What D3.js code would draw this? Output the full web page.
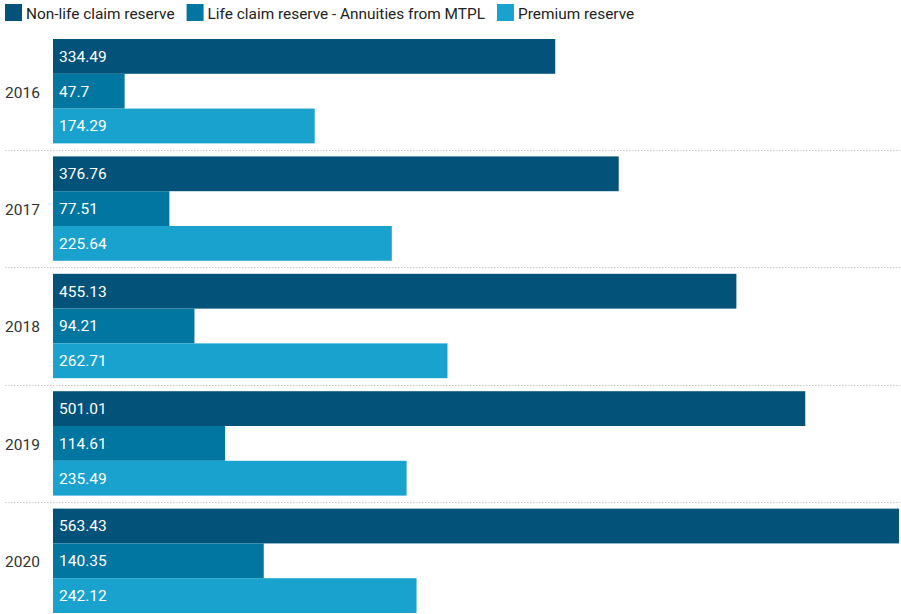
<!DOCTYPE html>
<html>
<head>
<meta charset="utf-8">
<script src="https://cdn.jsdelivr.net/npm/d3@7"></script>
<style>
  html, body { margin: 0; padding: 0; background: #fff; }
  svg { display: block; font-family: Roboto, "Noto Sans", sans-serif; }
</style>
</head>
<body>
<svg id="chart" width="901" height="614"></svg>
<script>
const years = ["2016", "2017", "2018", "2019", "2020"];
const seriesNames = ["Non-life claim reserve", "Life claim reserve - Annuities from MTPL", "Premium reserve"];
const nonLife = [334.49, 376.76, 455.13, 501.01, 563.43];
const lifeAnnuities = [47.7, 77.51, 94.21, 114.61, 140.35];
const premium = [174.29, 225.64, 262.71, 235.49, 242.12];
const colors = ["#02527a", "#0076a0", "#1aa2cf"];

const seriesValues = [nonLife, lifeAnnuities, premium];
const svg = d3.select("#chart");

const x = d3.scaleLinear().domain([0, d3.max(nonLife)]).range([53, 899]);
const y = d3.scaleBand().domain(years).range([39, 613]).paddingInner(0.111).paddingOuter(0);
const ySub = d3.scaleBand().domain(seriesNames).range([0, y.bandwidth()]).padding(0);

// legend: items laid out left to right, each placed after the previous label
const legend = svg.append("g");
let lx = 5;
seriesNames.forEach((name, i) => {
  const g = legend.append("g").attr("transform", `translate(${lx},4)`);
  g.append("rect").attr("width", 17).attr("height", 17).attr("fill", colors[i]);
  const t = g.append("text").attr("x", 21).attr("y", 14.5).attr("font-size", 15.4).attr("fill", "#222").text(name);
  lx += 21 + t.node().getComputedTextLength() + 12;
});

// dotted separators between year groups
const step = y.step();
years.slice(1).forEach(yr => {
  const yy = Math.round(y(yr) - (step - y.bandwidth()) / 2) + 0.5;
  svg.append("line").attr("x1", 5).attr("x2", 900).attr("y1", yy).attr("y2", yy)
    .attr("stroke", "#c8c8c8").attr("stroke-width", 1).attr("stroke-dasharray", "1.5,1.5");
});

// year labels
svg.append("g").selectAll("text").data(years).join("text")
  .attr("x", 5).attr("y", d => y(d) + y.bandwidth() / 2 + 1)
  .attr("dy", "0.35em").attr("font-size", 15.5).attr("fill", "#333").text(d => d);

// bars
const groups = svg.append("g").selectAll("g").data(years).join("g")
  .attr("transform", d => `translate(0,${y(d)})`);

groups.each(function (yr, yi) {
  const g = d3.select(this);
  seriesNames.forEach((s, si) => {
    const v = seriesValues[si][yi];
    g.append("rect")
      .attr("x", x(0)).attr("y", ySub(s))
      .attr("width", x(v) - x(0)).attr("height", ySub.bandwidth())
      .attr("fill", colors[si]);
    g.append("text")
      .attr("x", x(0) + 6).attr("y", ySub(s) + ySub.bandwidth() / 2)
      .attr("dy", "0.35em").attr("font-size", 15.5).attr("fill", "#fff")
      .text(v);
  });
});
</script>
</body>
</html>
